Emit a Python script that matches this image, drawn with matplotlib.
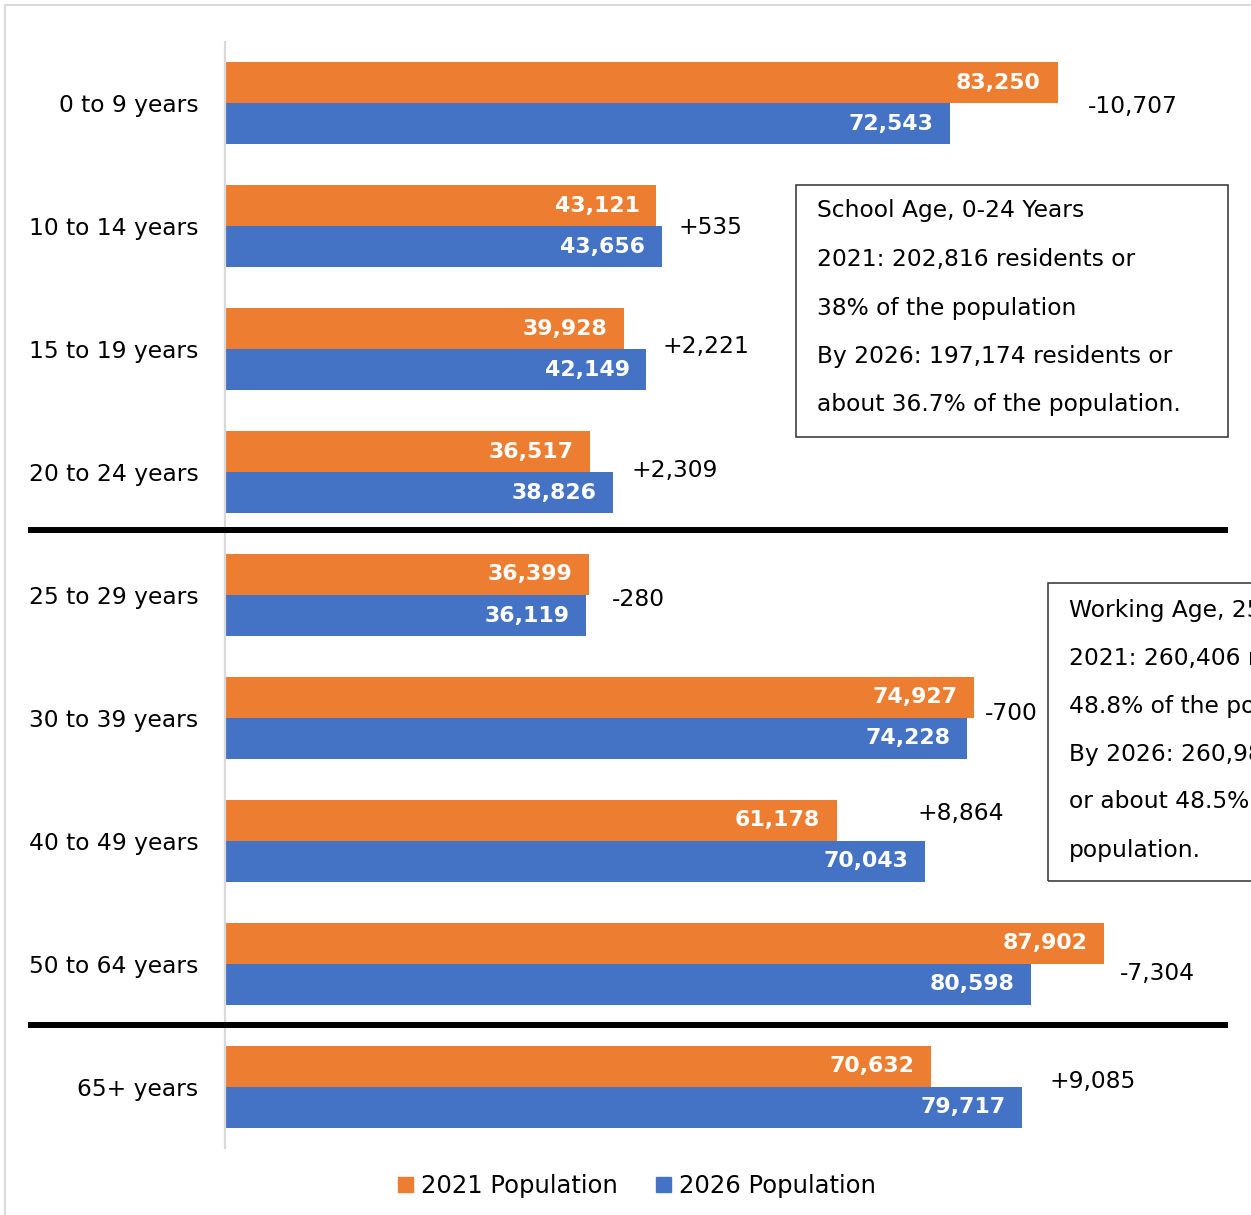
import matplotlib
matplotlib.use("Agg")
import matplotlib.pyplot as plt
from matplotlib.patches import Rectangle, Patch
from matplotlib.lines import Line2D

plt.rcParams['font.family'] = ['DejaVu Sans']

# ---- data ----
categories = ["0 to 9 years", "10 to 14 years", "15 to 19 years", "20 to 24 years",
              "25 to 29 years", "30 to 39 years", "40 to 49 years", "50 to 64 years",
              "65+ years"]
pop_2021 = [83250, 43121, 39928, 36517, 36399, 74927, 61178, 87902, 70632]
pop_2026 = [72543, 43656, 42149, 38826, 36119, 74228, 70043, 80598, 79717]
changes = [-10707, 535, 2221, 2309, -280, -700, 8864, -7304, 9085]
series_names = ["2021 Population", "2026 Population"]

school_text = ["School Age, 0-24 Years",
               "2021: 202,816 residents or",
               "38% of the population",
               "By 2026: 197,174 residents or",
               "about 36.7% of the population."]
working_text = ["Working Age, 25-64 Years",
                "2021: 260,406 residents or",
                "48.8% of the population",
                "By 2026: 260,988 residents",
                "or about 48.5% of the",
                "population."]

# ---- style / placement ----
ORANGE = "#ED7D31"
BLUE = "#4472C4"
W, H = 1251, 1215
FS = 16.8
FSB = 15.8
# change-label offsets (px): x gap after reference bar, y shift
chg_dx = [30, 17, 16, 18, 23, 11, 81, 16, 27]
chg_dy = [3, 1, -3, -2, 4, -4, -27, 10, -5]

fig = plt.figure(figsize=(W / 100, H / 100), dpi=100)

def fx(px):
    return px / W

def fy(py):
    return 1 - py / H

ax = fig.add_axes([fx(225), fy(1148), fx(1251) - fx(225), fy(42) - fy(1148)])
n = len(categories)
ys = list(range(n))
bh = 0.334
ax.barh([y - bh / 2 for y in ys], pop_2021, height=bh, color=ORANGE, label=series_names[0])
ax.barh([y + bh / 2 for y in ys], pop_2026, height=bh, color=BLUE, label=series_names[1])
ax.set_xlim(0, 102600)
ax.set_ylim(n - 0.5, -0.5)
ax.set_yticks(ys)
ax.set_yticklabels(categories, fontsize=FS)
ax.tick_params(axis='y', length=0, pad=19)
ax.set_xticks([])
for s in ['top', 'right', 'bottom']:
    ax.spines[s].set_visible(False)
ax.spines['left'].set_color('#D9D9D9')
ax.spines['left'].set_linewidth(1.6)

for i in range(n):
    ax.annotate(f"{pop_2021[i]:,}", (pop_2021[i], i - bh / 2), xytext=(-12, 0),
                textcoords='offset points', ha='right', va='center', color='white',
                fontsize=FSB, fontweight='bold')
    ax.annotate(f"{pop_2026[i]:,}", (pop_2026[i], i + bh / 2), xytext=(-12, 0),
                textcoords='offset points', ha='right', va='center', color='white',
                fontsize=FSB, fontweight='bold')
    c = changes[i]
    lab = f"+{c:,}" if c > 0 else f"-{abs(c):,}"
    ref = pop_2021[i] if i == 6 else max(pop_2021[i], pop_2026[i])
    ax.annotate(lab, (ref, i), xytext=(chg_dx[i] * 0.72, -chg_dy[i] * 0.72),
                textcoords='offset points', ha='left', va='center', color='black',
                fontsize=FS)

# separators
for py in (530, 1025):
    fig.add_artist(Line2D([fx(28), fx(1228)], [fy(py), fy(py)], color='black', lw=4.3,
                          solid_capstyle='butt'))

# outer frame
fig.add_artist(Rectangle((fx(5), fy(1300)), fx(1400), fy(5) - fy(1300), fill=False,
                         edgecolor='#D9D9D9', lw=1.5, transform=fig.transFigure))

# text boxes
fig.add_artist(Rectangle((fx(796), fy(437)), fx(1228) - fx(796), fy(185) - fy(437),
                         fill=False, edgecolor='#404040', lw=1.2, transform=fig.transFigure))
for k, line in enumerate(school_text):
    fig.text(fx(817), fy(211 + k * 48.5), line, fontsize=FS, ha='left', va='center')

fig.add_artist(Rectangle((fx(1048), fy(881)), fx(400), fy(583) - fy(881),
                         fill=False, edgecolor='#404040', lw=1.2, transform=fig.transFigure))
for k, line in enumerate(working_text):
    fig.text(fx(1069), fy(610 + k * 48), line, fontsize=FS, ha='left', va='center')

# legend
handles = [Patch(color=ORANGE), Patch(color=BLUE)]
fig.legend(handles, series_names, loc='center', bbox_to_anchor=(fx(637), fy(1186)),
           ncol=2, frameon=False, fontsize=17.5, handlelength=0.62, handleheight=0.62,
           handletextpad=0.3, columnspacing=1.6)

fig.savefig("out.png", dpi=100)
